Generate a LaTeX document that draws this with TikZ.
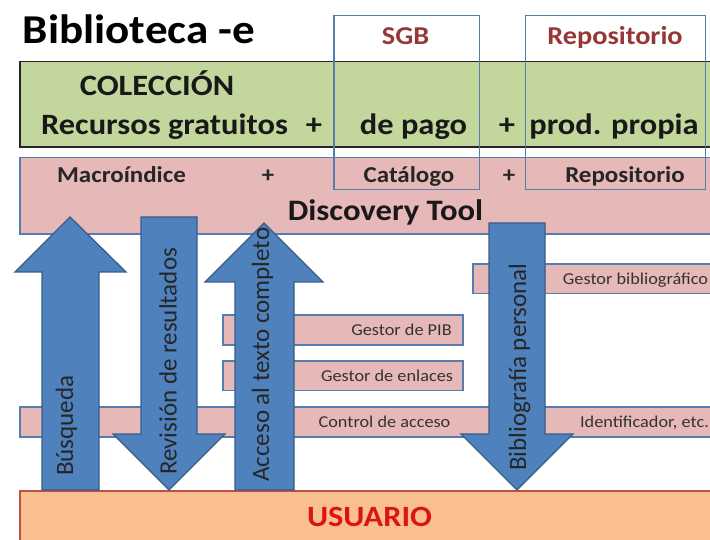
\documentclass[tikz,border=0pt]{standalone}
\usepackage{fontspec}
\setmainfont[FakeStretch=1.1]{Carlito}
\newfontfamily\vertfont{Carlito}
\tikzset{
  pinkbox/.style={draw=frameblue,line width=1.3pt,fill=pinkfill},
  greenbox/.style={draw=black!85,line width=1.3pt,fill=greenfill},
  userbox/.style={draw=userline,line width=1.1pt,fill=userfill},
  framebox/.style={draw=frameblue,line width=1.3pt},
  bigarrow/.style={draw=arrowline,line width=1.3pt,fill=arrowfill},
  lab/.style={inner sep=0pt,anchor=base},
  small/.style={lab,font=\fontsize{16.6}{18}\selectfont,text=black!80},
  mid/.style={lab,font=\bfseries\fontsize{22.7}{24}\selectfont,text=black!85},
  large/.style={lab,font=\bfseries\fontsize{29.5}{32}\selectfont,text=black!90},
  vert/.style={inner sep=0pt,anchor=base west,rotate=90,font=\vertfont\fontsize{25}{27}\selectfont,text=black!85},
}
\definecolor{frameblue}{RGB}{85,125,175}
\definecolor{pinkfill}{RGB}{230,184,183}
\definecolor{greenfill}{RGB}{195,214,155}
\definecolor{userfill}{RGB}{250,191,143}
\definecolor{userline}{RGB}{190,80,70}
\definecolor{arrowfill}{RGB}{79,129,189}
\definecolor{arrowline}{RGB}{56,93,138}
\definecolor{darkred}{RGB}{149,55,53}
\definecolor{userred}{RGB}{220,20,20}
\begin{document}
\begin{tikzpicture}[x=1pt,y=-1pt]
\useasboundingbox (0,0) rectangle (710,540);
% bands
\draw[greenbox] (20,61.5) rectangle (716,147);
\draw[pinkbox] (20,157.5) rectangle (716,234);
\draw[pinkbox] (473,264) rectangle (716,293.5);
\draw[pinkbox] (223,315) rectangle (463,345);
\draw[pinkbox] (223,361) rectangle (463,390.5);
\draw[pinkbox] (20,407) rectangle (716,437);
\draw[userbox] (20,491) rectangle (716,546);
% frames
\draw[framebox] (334,15.5) rectangle (479.5,189.5);
\draw[framebox] (525.5,15.5) rectangle (705.5,189.5);
% arrows
\draw[bigarrow] (70,217) -- (126,272) -- (99,272) -- (99,490) -- (42,490) -- (42,272) -- (15,272) -- cycle;
\draw[bigarrow] (141,217) -- (197,217) -- (197,434) -- (225,434) -- (169,490) -- (113,434) -- (141,434) -- cycle;
\draw[bigarrow] (264,223) -- (323,282) -- (294,282) -- (294,490) -- (235,490) -- (235,282) -- (205,282) -- cycle;
\draw[bigarrow] (489,223) -- (545,223) -- (545,434) -- (573,434) -- (517,490) -- (461,434) -- (489,434) -- cycle;
% texts
\node[lab,font=\bfseries\fontsize{41}{43}\selectfont,text=black] (title) at (139,44) {Biblioteca -e};
\node[lab,font=\bfseries\fontsize{25.7}{27}\selectfont,text=darkred] (sgb) at (405.5,45) {SGB};
\node[lab,font=\bfseries\fontsize{25.7}{27}\selectfont,text=darkred] (repo) at (615,45) {Repositorio};
\node[large] (col) at (157,96) {COLECCIÓN};
\node[large] (rec) at (164.5,135) {Recursos gratuitos};
\node[large] (p1) at (314,135) {+};
\node[large] (pago) at (413.5,135) {de pago};
\node[large] (p2) at (507,135) {+};
\node[large] (prop) at (614,135) {prod. propia};
\node[mid] (macro) at (121.5,183) {Macroíndice};
\node[mid] (p3) at (268,183) {+};
\node[mid] (cat) at (409,183) {Catálogo};
\node[mid] (p4) at (509,183) {+};
\node[mid] (rep2) at (625,183) {Repositorio};
\node[lab,font=\bfseries\fontsize{29.7}{32}\selectfont,text=black!90] (disc) at (385.5,221) {Discovery Tool};
\node[small] (bib) at (635.5,284) {Gestor bibliográfico};
\node[small] (pib) at (401.5,335) {Gestor de PIB};
\node[small] (enl) at (387,381) {Gestor de enlaces};
\node[small] (acc) at (384.5,427) {Control de acceso};
\node[small] (ide) at (644.5,427) {Identificador, etc.};
\node[lab,font=\bfseries\fontsize{29.4}{32}\selectfont,text=userred] (usr) at (369.5,526) {USUARIO};
\node[vert] (bus) at (73,476) {Búsqueda};
\node[vert] (rev) at (176.5,475) {Revisión de resultados};
\node[vert] (tex) at (269,482) {Acceso al texto completo};
\node[vert] (per) at (526,471) {Bibliografía personal};
\end{tikzpicture}
\end{document}
